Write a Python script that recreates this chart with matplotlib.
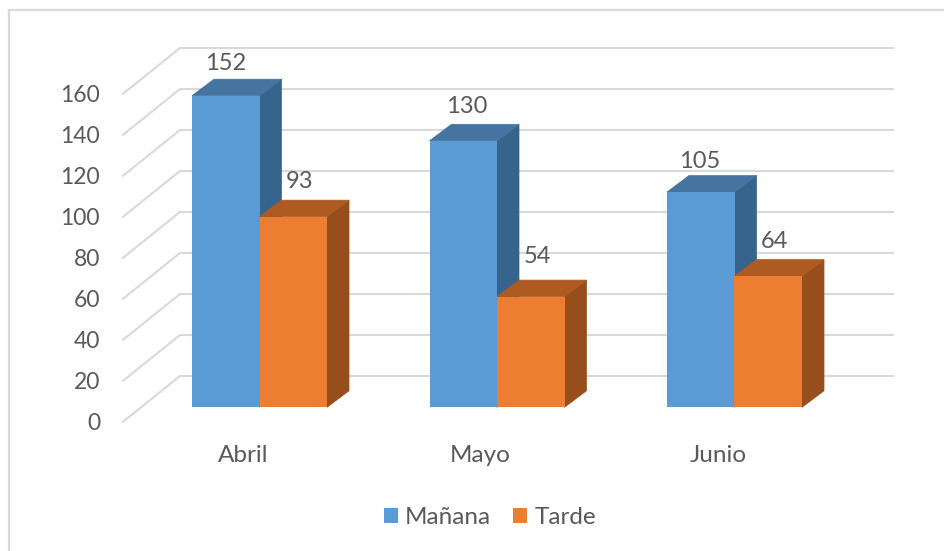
import matplotlib
matplotlib.use("Agg")
import matplotlib.pyplot as plt
from matplotlib.patches import Polygon, Rectangle

months = ["Abril", "Mayo", "Junio"]
manana = [152, 130, 105]
tarde = [93, 54, 64]
y_ticks = [0, 20, 40, 60, 80, 100, 120, 140, 160]

W, H = 945, 551
PX_X = 237.5      # pixels per category
PX_Y = 2.05       # pixels per value unit
X0, Y0 = 259.5, 407.3  # pixel position of category 0, value 0
BAR_W = 67.5 / PX_X
DX, DY = 22 / PX_X, 16.5 / PX_Y
GREY = "#D9D9D9"
TEXT = "#595959"
PT = 0.72  # points per pixel
plt.rcParams["font.family"] = ["Lato", "DejaVu Sans"]

# data-label nudges in pixels, per bar
manana_nudge = [(0, 34.5), (3.5, 36.5), (-1, 32.5)]
tarde_nudge = [(6.5, 37), (7, 42), (6.5, 37)]

fig = plt.figure(figsize=(W / 100, H / 100), dpi=100)
ax = fig.add_axes([0, 0, 1, 1])
ax.set_xlim(-X0 / PX_X, (W - X0) / PX_X)
ax.set_ylim(-(H - Y0) / PX_Y, Y0 / PX_Y)
ax.axis("off")

# outer chart frame (right and bottom sides fall outside the image)
ax.add_patch(Rectangle((9.5 / W, -0.1), 1.1, 1.1 - 10 / H,
                       transform=ax.transAxes, fill=False, ec=GREY, lw=1.6, zorder=0))

# floor/wall gridlines
x_front = (123 - X0) / PX_X
x_back = (180 - X0) / PX_X
x_right = (893 - X0) / PX_X
y_front_off = -14.5 / PX_Y
y_back_off = 31.3 / PX_Y
for v in y_ticks:
    ax.plot([x_front, x_back, x_right],
            [v + y_front_off, v + y_back_off, v + y_back_off],
            color=GREY, lw=1.5, zorder=1, solid_joinstyle="miter")
    ax.text((100 - X0) / PX_X, v + y_front_off, str(v), ha="right", va="center_baseline",
            fontsize=16.5, color=TEXT)


def bar3d(xc, value, front, top, side):
    left, right = xc - BAR_W / 2, xc + BAR_W / 2
    ax.add_patch(Polygon([(right, 0), (right + DX, DY), (right + DX, value + DY), (right, value)],
                         fc=side, ec=side, lw=0.5, zorder=3))
    ax.add_patch(Polygon([(left, value), (left + DX, value + DY), (right + DX, value + DY), (right, value)],
                         fc=top, ec=top, lw=0.5, zorder=3))
    return ax.bar(xc, value, width=BAR_W, color=front, linewidth=0, zorder=3)


h1 = h2 = None
for i, (a, b) in enumerate(zip(manana, tarde)):
    h1 = bar3d(i - BAR_W / 2, a, "#5B9BD5", "#44749F", "#36648B")
    h2 = bar3d(i + BAR_W / 2, b, "#ED7D31", "#AE5A21", "#964F1C")

# data labels, offset from the top of each bar
for i, (a, b) in enumerate(zip(manana, tarde)):
    ax.annotate(str(a), (i - BAR_W / 2, a),
                xytext=(manana_nudge[i][0] * PT, manana_nudge[i][1] * PT), textcoords="offset points",
                ha="center", va="center_baseline", fontsize=17, color=TEXT, zorder=5)
    ax.annotate(str(b), (i + BAR_W / 2, b),
                xytext=(tarde_nudge[i][0] * PT, tarde_nudge[i][1] * PT), textcoords="offset points",
                ha="center", va="center_baseline", fontsize=17, color=TEXT, zorder=5)

for i, m in enumerate(months):
    ax.annotate(m, (i, 0), xytext=(-16.5 * PT, -46.5 * PT), textcoords="offset points",
                ha="center", va="center_baseline", fontsize=17.5, color=TEXT)

leg = ax.legend([h1, h2], ["Mañana", "Tarde"], loc="center", ncol=2,
                bbox_to_anchor=(490 / W, 1 - 517.5 / H), bbox_transform=ax.transAxes,
                frameon=False, fontsize=17.5, labelcolor=TEXT, handlelength=0.58, handleheight=0.58,
                handletextpad=0.29, columnspacing=0.9, borderpad=0, borderaxespad=0)

fig.savefig("out.png", dpi=100, facecolor="white")
